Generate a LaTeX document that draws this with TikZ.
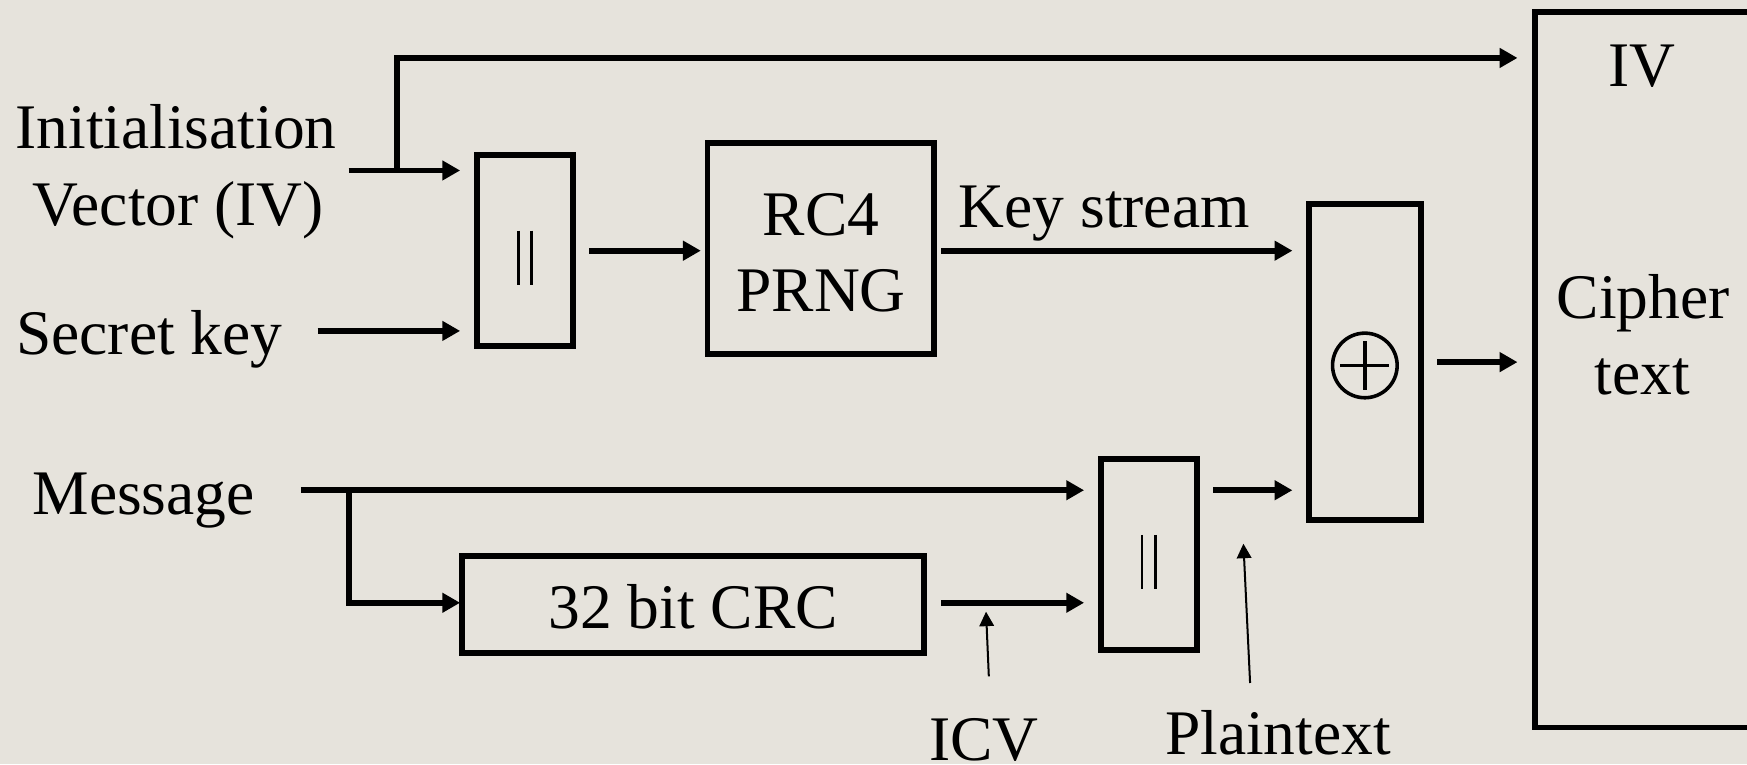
\documentclass[tikz,border=0pt]{standalone}
\usepackage{fontspec}
\setmainfont{Liberation Serif}
\usetikzlibrary{arrows.meta}
\definecolor{bg}{RGB}{230,227,220}
\begin{document}
\begin{tikzpicture}[x=0.5pt,y=-0.5pt,
  box/.style={draw, line width=2.6pt, inner sep=0pt, outer sep=0pt},
  cat/.style={box, minimum width=43pt, minimum height=85.7pt},
  arr/.style={line width=2.6pt, -{Triangle[length=8pt,width=8.5pt]}},
  thinarr/.style={line width=0.9pt, -{Triangle[length=6.5pt,width=6.5pt]}},
  bar/.style={line width=1.3pt},
  lbl/.style={inner sep=0pt, anchor=base, font=\fontsize{28.5}{34.5}\selectfont},
]
\fill[bg] (0,0) rectangle (1568,686);
\useasboundingbox (0,0) rectangle (1568,686);

% boxes
\node[cat] (cat1) at (471,225) {};
\node[cat] (cat2) at (1031,498) {};
\node[box, minimum width=101.5pt, minimum height=95pt] (rc4) at (736.5,223) {};
\node[box, minimum width=50.3pt, minimum height=142pt] (xor) at (1225.3,325) {};
\node[box, minimum width=207pt, minimum height=43.5pt] (crc) at (622,542.5) {};
\node[box, minimum width=125pt, minimum height=321pt] (cbox) at (1503,332) {};

% concatenation bars
\draw[bar] (465,207) -- (465,256);
\draw[bar] (477,207) -- (477,256);
\draw[bar] (1025,480) -- (1025,529);
\draw[bar] (1037,480) -- (1037,529);

% xor symbol
\node[circle, draw, line width=1.6pt, minimum size=29pt, inner sep=0pt] (xo) at (1225,328) {};
\draw[line width=1.6pt] ([xshift=-11pt]xo.center) -- ([xshift=11pt]xo.center);
\draw[line width=1.6pt] ([yshift=-11pt]xo.center) -- ([yshift=11pt]xo.center);

% labels
\node[lbl] (init1) at (158,133) {Initialisation};
\node[lbl] (init2) at (160,202) {Vector (IV)};
\node[lbl] (skey) at (134,318) {Secret key};
\node[lbl] (msg) at (129,462) {Message};
\node[lbl] (rc4a) at (737,211) {RC4};
\node[lbl] (rc4b) at (737,280) {PRNG};
\node[lbl] (ks) at (991,204) {Key stream};
\node[lbl] (crct) at (622,564) {32 bit CRC};
\node[lbl] (ivt) at (1474,78) {IV};
\node[lbl] (ct1) at (1475,286) {Cipher};
\node[lbl] (ct2) at (1474,354) {text};
\node[lbl] (icv) at (883,683) {ICV};
\node[lbl] (pt) at (1147,677) {Plaintext};

% free ends
\coordinate (ivsrc) at (313,153);
\coordinate (ivbr) at (356,153);
\coordinate (ivtop) at (356,52);
\coordinate (sksrc) at (285,297);
\coordinate (msgsrc) at (270,440);
\coordinate (msgbr) at (313,440);
\coordinate (icvtail) at (887.5,607);
\coordinate (icvhead) at (885,549);
\coordinate (pttail) at (1122,613);
\coordinate (pthead) at (1116,488);

% connectors
\draw[arr] (ivsrc) -- ([xshift=-7.5pt]cat1.west |- ivsrc);
\draw[arr] (ivbr) -- (ivtop) -- ([xshift=-8pt]cbox.west |- ivtop);
\draw[arr] (sksrc) -- ([xshift=-7.5pt]cat1.west |- sksrc);
\draw[arr] ([xshift=7.5pt]cat1.east) -- ([xshift=-3pt]rc4.west |- cat1.east);
\draw[arr] ([xshift=3.5pt]rc4.east |- cat1.east) -- ([xshift=-7.5pt]xor.west |- cat1.east);
\draw[arr] ([xshift=7.2pt]xor.east) -- ([xshift=-8pt]xor.east -| cbox.west);
\draw[arr] (msgsrc) -- ([xshift=-7.5pt]cat2.west |- msgsrc);
\draw[arr] (msgbr) |- ([xshift=-1pt,yshift=0.75pt]crc.west);
\draw[arr] ([xshift=8pt,yshift=0.75pt]crc.east) -- ([xshift=-7.5pt,yshift=0.75pt]cat2.west |- crc.east);
\draw[arr] ([xshift=7.5pt]cat2.east |- msgsrc) -- ([xshift=-7.5pt]xor.west |- msgsrc);
\draw[thinarr] (icvtail) -- (icvhead);
\draw[thinarr] (pttail) -- (pthead);
\end{tikzpicture}
\end{document}
